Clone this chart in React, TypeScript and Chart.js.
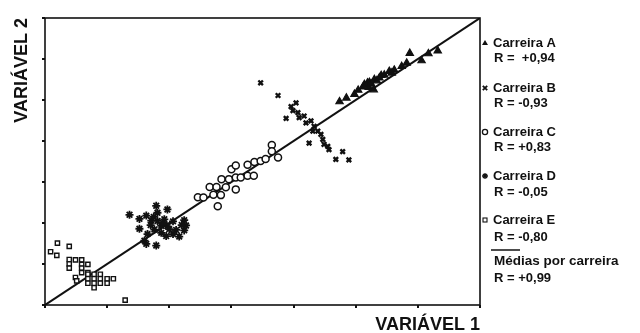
import React, { useEffect, useRef } from "react";
import { Chart, registerables } from "chart.js";

Chart.register(...registerables);

// Carreira A (triangles)
const careerA: [number, number][] = [
  [4.74, 4.96], [4.85, 5.05], [4.98, 5.14], [5.04, 5.24], [5.12, 5.32], [5.14, 5.38],
  [5.19, 5.42], [5.22, 5.43], [5.21, 5.31], [5.29, 5.25], [5.25, 5.39], [5.30, 5.50],
  [5.34, 5.47], [5.38, 5.54], [5.41, 5.60], [5.46, 5.61], [5.54, 5.70], [5.58, 5.66],
  [5.62, 5.73], [5.74, 5.82], [5.82, 5.90], [5.87, 6.14], [6.06, 5.96], [6.17, 6.13],
  [6.32, 6.20],
];
// Carreira B (crosses)
const careerB: [number, number][] = [
  [3.47, 5.42], [3.75, 5.11], [4.04, 4.93], [3.96, 4.84], [3.99, 4.74], [4.07, 4.69],
  [3.88, 4.55], [4.09, 4.57], [4.17, 4.61], [4.20, 4.44], [4.28, 4.49], [4.33, 4.36],
  [4.31, 4.24], [4.39, 4.24], [4.44, 4.16], [4.47, 4.04], [4.25, 3.95], [4.49, 3.92],
  [4.55, 3.87], [4.57, 3.79], [4.68, 3.55], [4.79, 3.74], [4.89, 3.54],
];
// Carreira C (circles)
const careerC: [number, number][] = [
  [2.46, 2.63], [2.55, 2.62], [2.65, 2.88], [2.76, 2.88], [2.71, 2.69], [2.83, 2.68],
  [2.78, 2.41], [2.84, 3.07], [2.96, 3.07], [2.91, 2.87], [3.00, 3.31], [3.07, 3.40],
  [3.07, 3.11], [3.07, 2.82], [3.15, 3.11], [3.26, 3.15], [3.36, 3.15], [3.26, 3.42],
  [3.37, 3.49], [3.47, 3.51], [3.55, 3.56], [3.65, 3.90], [3.65, 3.75], [3.75, 3.60],
];
// Carreira D (stars)
const careerD: [number, number][] = [
  [1.36, 2.20], [1.52, 2.10], [1.63, 2.18], [1.79, 2.42], [1.97, 2.33], [1.81, 2.25],
  [1.71, 2.06], [1.81, 2.05], [1.92, 2.09], [1.87, 1.93], [1.97, 1.92], [1.76, 1.84],
  [1.87, 1.76], [1.95, 1.68], [2.06, 2.04], [2.11, 1.83], [2.16, 1.67], [2.24, 2.07],
  [2.27, 1.94], [2.24, 1.82], [1.60, 1.57], [1.63, 1.49], [1.79, 1.45], [1.52, 1.86],
  [1.65, 1.73], [2.06, 1.73], [1.70, 1.95], [1.90, 2.00], [2.00, 1.85], [1.75, 2.15],
  [2.20, 1.95],
];
// Carreira E (squares)
const careerE: [number, number][] = [
  [0.20, 1.51], [0.39, 1.43], [0.09, 1.30], [0.19, 1.21],
  [0.39, 1.11], [0.49, 1.10], [0.59, 1.10],
  [0.39, 1.00], [0.59, 0.99], [0.69, 0.99],
  [0.39, 0.90], [0.59, 0.90],
  [0.59, 0.79], [0.69, 0.79],
  [0.49, 0.67], [0.51, 0.59],
  [0.69, 0.75], [0.79, 0.75], [0.89, 0.75],
  [0.69, 0.64], [0.79, 0.64], [0.89, 0.64], [1.00, 0.64], [1.10, 0.64],
  [0.69, 0.53], [0.79, 0.53], [0.89, 0.53], [1.00, 0.53],
  [0.79, 0.42],
  [1.29, 0.12],
];
// Médias por carreira (line)
const meanLine: [number, number][] = [[0, 0], [7, 7]];

const legendNames = ["Carreira A", "Carreira B", "Carreira C", "Carreira D", "Carreira E"];
const legendR = ["R =  +0,94", "R = -0,93", "R = +0,83", "R = -0,05", "R = -0,80"];
const meanName = "Médias por carreira";
const meanR = "R = +0,99";

const axisMin = 0;
const axisMax = 7;

const toXY = (arr: [number, number][]) => arr.map(([x, y]) => ({ x, y }));

const FONT = '"Liberation Sans", Arial, sans-serif';

function drawSymbol(ctx: CanvasRenderingContext2D, kind: string, x: number, y: number) {
  ctx.save();
  ctx.strokeStyle = "#111";
  ctx.fillStyle = "#111";
  ctx.lineWidth = 1.3;
  ctx.beginPath();
  if (kind === "triangle") {
    ctx.moveTo(x, y - 3);
    ctx.lineTo(x + 3, y + 2);
    ctx.lineTo(x - 3, y + 2);
    ctx.closePath();
    ctx.fill();
  } else if (kind === "cross") {
    ctx.lineWidth = 1.8;
    ctx.moveTo(x - 2.2, y - 2.2);
    ctx.lineTo(x + 2.2, y + 2.2);
    ctx.moveTo(x + 2.2, y - 2.2);
    ctx.lineTo(x - 2.2, y + 2.2);
    ctx.stroke();
  } else if (kind === "circle") {
    ctx.arc(x, y, 2.6, 0, Math.PI * 2);
    ctx.stroke();
  } else if (kind === "star") {
    for (let i = 0; i < 4; i++) {
      const a = (i * Math.PI) / 4;
      ctx.moveTo(x - 3 * Math.cos(a), y - 3 * Math.sin(a));
      ctx.lineTo(x + 3 * Math.cos(a), y + 3 * Math.sin(a));
    }
    ctx.stroke();
  } else if (kind === "rect") {
    ctx.lineWidth = 1.1;
    ctx.strokeRect(x - 2, y - 2, 4, 4);
  }
  ctx.restore();
}

const decorPlugin = {
  id: "decor",
  afterDatasetsDraw(chart: any) {
    const { ctx, chartArea } = chart;
    ctx.save();
    ctx.strokeStyle = "#111";
    ctx.lineWidth = 1.6;
    ctx.strokeRect(chartArea.left, chartArea.top, chartArea.right - chartArea.left, chartArea.bottom - chartArea.top);
    ctx.restore();
  },
  afterDraw(chart: any) {
    const ctx: CanvasRenderingContext2D = chart.ctx;
    const kinds = ["triangle", "cross", "circle", "star", "rect"];
    const rows = [
      [43, 58],
      [88, 103],
      [132, 147],
      [176, 192],
      [220, 237],
    ];
    ctx.save();
    ctx.font = `bold 13px ${FONT}`;
    ctx.fillStyle = "#111";
    ctx.textBaseline = "middle";
    ctx.textAlign = "left";
    for (let i = 0; i < kinds.length; i++) {
      drawSymbol(ctx, kinds[i], 485, rows[i][0]);
      ctx.fillText(legendNames[i], 493, rows[i][0]);
      ctx.fillText(legendR[i], 494, rows[i][1]);
    }
    ctx.strokeStyle = "#111";
    ctx.lineWidth = 1.5;
    ctx.beginPath();
    ctx.moveTo(491, 250);
    ctx.lineTo(520, 250);
    ctx.stroke();
    ctx.font = `bold 13.5px ${FONT}`;
    ctx.fillText(meanName, 494, 261);
    ctx.font = `bold 13px ${FONT}`;
    ctx.fillText(meanR, 494, 278);
    ctx.restore();
  },
};

export default function App() {
  const ref = useRef<HTMLCanvasElement>(null);
  useEffect(() => {
    if (!ref.current) return;
    const common = { showLine: false, borderColor: "#111" };
    const chart = new Chart(ref.current, {
      type: "scatter",
      data: {
        datasets: [
          { ...common, label: legendNames[0], data: toXY(careerA), pointStyle: "triangle", pointRadius: 4.2, backgroundColor: "#111", borderWidth: 1.2 },
          { ...common, label: legendNames[1], data: toXY(careerB), pointStyle: "crossRot", pointRadius: 3.2, backgroundColor: "#111", borderWidth: 2.4 },
          { ...common, label: legendNames[2], data: toXY(careerC), pointStyle: "circle", pointRadius: 3.5, backgroundColor: "#fff", borderWidth: 1.5 },
          { ...common, label: legendNames[3], data: toXY(careerD), pointStyle: "star", pointRadius: 4, backgroundColor: "#111", borderWidth: 1.8 },
          { ...common, label: legendNames[4], data: toXY(careerE), pointStyle: "rect", pointRadius: 3, backgroundColor: "#fff", borderWidth: 1.4 },
          {
            type: "line" as any,
            label: meanName,
            data: toXY(meanLine),
            showLine: true,
            borderColor: "#111",
            borderWidth: 2,
            pointRadius: 0,
            fill: false,
          } as any,
        ],
      },
      options: {
        animation: false,
        responsive: false,
        layout: { padding: { top: 18, right: 160, bottom: 0, left: 0 } },
        plugins: { legend: { display: false }, tooltip: { enabled: false } },
        scales: {
          x: {
            type: "linear",
            min: axisMin,
            max: axisMax,
            ticks: { display: false, stepSize: 1 },
            grid: { display: true, drawOnChartArea: false, drawTicks: true, tickLength: 3, color: "#111", lineWidth: 2 },
            border: { display: false },
            title: {
              display: true,
              text: "VARIÁVEL 1",
              align: "end",
              color: "#111",
              font: { family: FONT, size: 18, weight: "bold", lineHeight: 0.85 },
              padding: 0,
            },
            afterFit: (s: any) => {
              s.height = 28;
            },
          },
          y: {
            type: "linear",
            min: axisMin,
            max: axisMax,
            ticks: { display: false, stepSize: 1 },
            grid: { display: true, drawOnChartArea: false, drawTicks: true, tickLength: 3, color: "#111", lineWidth: 2 },
            border: { display: false },
            title: {
              display: true,
              text: "VARIÁVEL 2",
              align: "end",
              color: "#111",
              font: { family: FONT, size: 18, weight: "bold", lineHeight: 1.2 },
              padding: { top: 11, bottom: 0 },
            },
            afterFit: (s: any) => {
              s.width = 45;
            },
          },
        },
      },
      plugins: [decorPlugin],
    });
    return () => chart.destroy();
  }, []);
  return (
    <div style={{ position: "absolute", left: 0, top: 0, width: 640, height: 333, background: "#fff" }}>
      <canvas ref={ref} width={640} height={333} style={{ display: "block" }} />
    </div>
  );
}
